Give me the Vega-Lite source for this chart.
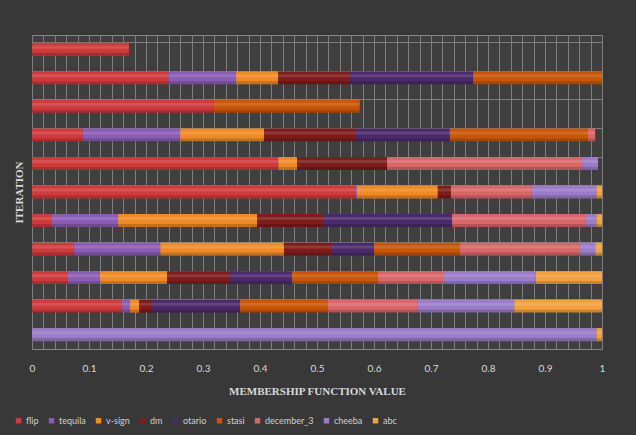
{
  "$schema": "https://vega.github.io/schema/vega-lite/v6.json",
  "autosize": "none",
  "width": 570,
  "height": 314,
  "padding": {"left": 32, "top": 35, "right": 34, "bottom": 86},
  "background": "#383838",
  "config": {
    "view": {"fill": "#3f3f3f", "stroke": "#858585", "strokeWidth": 1},
    "font": "Lato"
  },
  "data": {
    "values": [
      {"iteration": 11, "algorithm": "flip", "value": 0.17},
      {"iteration": 10, "algorithm": "flip", "value": 0.239},
      {"iteration": 10, "algorithm": "tequila", "value": 0.119},
      {"iteration": 10, "algorithm": "v-sign", "value": 0.074},
      {"iteration": 10, "algorithm": "dm", "value": 0.126},
      {"iteration": 10, "algorithm": "otario", "value": 0.216},
      {"iteration": 10, "algorithm": "stasi", "value": 0.226},
      {"iteration": 9, "algorithm": "flip", "value": 0.318},
      {"iteration": 9, "algorithm": "stasi", "value": 0.257},
      {"iteration": 8, "algorithm": "flip", "value": 0.089},
      {"iteration": 8, "algorithm": "tequila", "value": 0.171},
      {"iteration": 8, "algorithm": "v-sign", "value": 0.147},
      {"iteration": 8, "algorithm": "dm", "value": 0.161},
      {"iteration": 8, "algorithm": "otario", "value": 0.165},
      {"iteration": 8, "algorithm": "stasi", "value": 0.242},
      {"iteration": 8, "algorithm": "december_3", "value": 0.013},
      {"iteration": 7, "algorithm": "flip", "value": 0.432},
      {"iteration": 7, "algorithm": "v-sign", "value": 0.033},
      {"iteration": 7, "algorithm": "dm", "value": 0.158},
      {"iteration": 7, "algorithm": "december_3", "value": 0.342},
      {"iteration": 7, "algorithm": "cheeba", "value": 0.028},
      {"iteration": 6, "algorithm": "flip", "value": 0.567},
      {"iteration": 6, "algorithm": "tequila", "value": 0.003},
      {"iteration": 6, "algorithm": "v-sign", "value": 0.142},
      {"iteration": 6, "algorithm": "dm", "value": 0.023},
      {"iteration": 6, "algorithm": "december_3", "value": 0.142},
      {"iteration": 6, "algorithm": "cheeba", "value": 0.113},
      {"iteration": 6, "algorithm": "abc", "value": 0.01},
      {"iteration": 5, "algorithm": "flip", "value": 0.035},
      {"iteration": 5, "algorithm": "tequila", "value": 0.116},
      {"iteration": 5, "algorithm": "v-sign", "value": 0.244},
      {"iteration": 5, "algorithm": "dm", "value": 0.117},
      {"iteration": 5, "algorithm": "otario", "value": 0.225},
      {"iteration": 5, "algorithm": "december_3", "value": 0.235},
      {"iteration": 5, "algorithm": "cheeba", "value": 0.018},
      {"iteration": 5, "algorithm": "abc", "value": 0.01},
      {"iteration": 4, "algorithm": "flip", "value": 0.074},
      {"iteration": 4, "algorithm": "tequila", "value": 0.151},
      {"iteration": 4, "algorithm": "v-sign", "value": 0.217},
      {"iteration": 4, "algorithm": "dm", "value": 0.084},
      {"iteration": 4, "algorithm": "otario", "value": 0.074},
      {"iteration": 4, "algorithm": "stasi", "value": 0.151},
      {"iteration": 4, "algorithm": "december_3", "value": 0.21},
      {"iteration": 4, "algorithm": "cheeba", "value": 0.027},
      {"iteration": 4, "algorithm": "abc", "value": 0.012},
      {"iteration": 3, "algorithm": "flip", "value": 0.063},
      {"iteration": 3, "algorithm": "tequila", "value": 0.056},
      {"iteration": 3, "algorithm": "v-sign", "value": 0.118},
      {"iteration": 3, "algorithm": "dm", "value": 0.11},
      {"iteration": 3, "algorithm": "otario", "value": 0.109},
      {"iteration": 3, "algorithm": "stasi", "value": 0.151},
      {"iteration": 3, "algorithm": "december_3", "value": 0.114},
      {"iteration": 3, "algorithm": "cheeba", "value": 0.163},
      {"iteration": 3, "algorithm": "abc", "value": 0.116},
      {"iteration": 2, "algorithm": "flip", "value": 0.158},
      {"iteration": 2, "algorithm": "tequila", "value": 0.014},
      {"iteration": 2, "algorithm": "v-sign", "value": 0.016},
      {"iteration": 2, "algorithm": "dm", "value": 0.022},
      {"iteration": 2, "algorithm": "otario", "value": 0.155},
      {"iteration": 2, "algorithm": "stasi", "value": 0.154},
      {"iteration": 2, "algorithm": "december_3", "value": 0.158},
      {"iteration": 2, "algorithm": "cheeba", "value": 0.169},
      {"iteration": 2, "algorithm": "abc", "value": 0.154},
      {"iteration": 1, "algorithm": "cheeba", "value": 0.99},
      {"iteration": 1, "algorithm": "abc", "value": 0.01}
    ]
  },
  "transform": [
    {"calculate": "indexof(['flip', 'tequila', 'v-sign', 'dm', 'otario', 'stasi', 'december_3', 'cheeba', 'abc'], datum.algorithm)", "as": "seriesOrder"}
  ],
  "encoding": {
    "y": {
      "field": "iteration",
      "type": "ordinal",
      "sort": "descending",
      "scale": {"paddingInner": 0.55, "paddingOuter": 0.275},
      "axis": {
        "title": "ITERATION",
        "titleFont": "Liberation Serif",
        "titleFontSize": 11,
        "titleFontWeight": "bold",
        "titleColor": "#d9d9d9",
        "titlePadding": 8,
        "labels": false,
        "ticks": false,
        "domain": false,
        "grid": true,
        "bandPosition": 0,
        "gridColor": "#7f7f7f",
        "gridWidth": 1
      }
    },
    "x": {
      "field": "value",
      "type": "quantitative",
      "stack": "zero",
      "scale": {"domain": [0, 1], "nice": false},
      "axis": {
        "title": "MEMBERSHIP FUNCTION VALUE",
        "titleFont": "Liberation Serif",
        "titleFontSize": 11,
        "titleFontWeight": "bold",
        "titleColor": "#d9d9d9",
        "titlePadding": 12,
        "values": [0, 0.02, 0.04, 0.06, 0.08, 0.1, 0.12, 0.14, 0.16, 0.18, 0.2, 0.22, 0.24, 0.26, 0.28, 0.3, 0.32, 0.34, 0.36, 0.38, 0.4, 0.42, 0.44, 0.46, 0.48, 0.5, 0.52, 0.54, 0.56, 0.58, 0.6, 0.62, 0.64, 0.66, 0.68, 0.7, 0.72, 0.74, 0.76, 0.78, 0.8, 0.82, 0.84, 0.86, 0.88, 0.9, 0.92, 0.94, 0.96, 0.98, 1],
        "labelExpr": "abs(datum.value * 10 - round(datum.value * 10)) < 0.001 ? '' + round(datum.value * 10) / 10 : ''",
        "labelColor": "#d9d9d9",
        "labelFontSize": 10,
        "labelPadding": 14,
        "labelFlush": false,
        "labelOverlap": false,
        "ticks": false,
        "domain": false,
        "grid": true,
        "gridColor": "#7f7f7f",
        "gridWidth": 1
      }
    },
    "order": {"field": "seriesOrder", "type": "quantitative", "sort": "ascending"}
  },
  "layer": [
    {
      "mark": {"type": "bar"},
      "encoding": {
        "color": {
          "field": "algorithm",
          "type": "nominal",
          "sort": ["flip", "tequila", "v-sign", "dm", "otario", "stasi", "december_3", "cheeba", "abc"],
          "scale": {
            "domain": ["flip", "tequila", "v-sign", "dm", "otario", "stasi", "december_3", "cheeba", "abc"],
            "range": ["#cf3a3c", "#8a5cb4", "#f08a26", "#7e1b1b", "#4b2a6b", "#c95608", "#d9676a", "#9a7cc8", "#f3a03e"]
          },
          "legend": {
            "title": null,
            "orient": "none",
            "direction": "horizontal",
            "legendX": -18,
            "legendY": 381,
            "symbolType": "square",
            "symbolSize": 30,
            "labelColor": "#d0d0d0",
            "labelFontSize": 9,
            "columnPadding": 8,
            "symbolOffset": 0,
            "labelOffset": 3
          }
        }
      }
    },
    {
      "mark": {"type": "bar", "height": 3, "yOffset": -2, "color": "#ffffff", "opacity": 0.13},
      "encoding": {}
    },
    {
      "mark": {"type": "bar", "height": 3, "yOffset": 5, "color": "#000000", "opacity": 0.18},
      "encoding": {}
    }
  ]
}
